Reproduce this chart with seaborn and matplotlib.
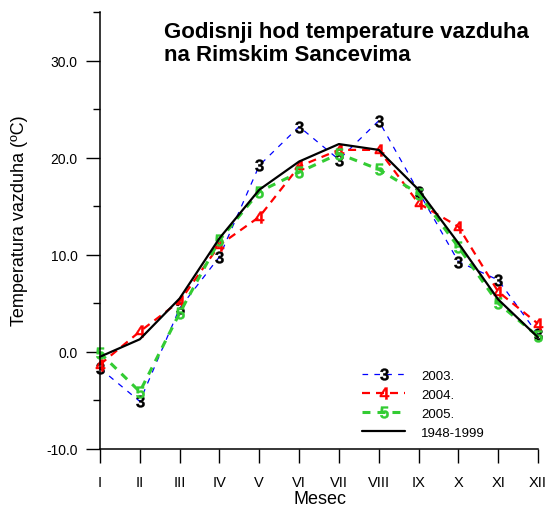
import matplotlib
matplotlib.use("Agg")
import matplotlib.pyplot as plt
import seaborn as sns
import numpy as np
import pandas as pd
from matplotlib.ticker import MultipleLocator

months = ["I", "II", "III", "IV", "V", "VI", "VII", "VIII", "IX", "X", "XI", "XII"]
t2003 = [-1.7, -5.1, 4.5, 9.8, 19.2, 23.2, 19.8, 23.8, 16.5, 9.3, 7.4, 1.8]
t2004 = [-1.3, 2.1, 5.2, 11.0, 13.9, 19.1, 20.8, 20.8, 15.3, 12.9, 6.2, 2.9]
t2005 = [-0.1, -4.1, 4.0, 11.5, 16.5, 18.5, 20.4, 18.8, 16.3, 10.8, 5.0, 1.6]
t_avg = [-0.5, 1.3, 5.5, 11.7, 16.7, 19.6, 21.4, 20.8, 16.7, 11.2, 5.4, 1.5]
labels = ["2003.", "2004.", "2005.", "1948-1999"]

sns.set_style("white")
plt.rcParams["font.family"] = ["Liberation Sans", "DejaVu Sans"]
plt.rcParams["mathtext.fontset"] = "custom"
plt.rcParams["mathtext.bf"] = "Liberation Sans:bold"
plt.rcParams["mathtext.rm"] = "Liberation Sans"
for k in ["text.color", "axes.labelcolor", "xtick.color", "ytick.color", "axes.edgecolor"]:
    plt.rcParams[k] = "black"

fig = plt.figure(figsize=(5.46, 5.10), dpi=100)
ax = fig.add_axes([100 / 546, 60 / 510, 438 / 546, 437 / 510])

x = np.arange(1, 13)
df = pd.DataFrame({"m": x, "a": t2003, "b": t2004, "c": t2005, "d": t_avg})

green = "#33cc33"
specs = [
    ("a", labels[0], "#0000ff", 0.9, (0, (4.5, 5.0)), r"$\mathbf{3}$", "black"),
    ("b", labels[1], "#ff0000", 1.6, (0, (3.6, 2.7)), r"$\mathbf{4}$", "#ff0000"),
    ("c", labels[2], green, 2.2, (0, (2.6, 2.3)), r"$\mathbf{5}$", green),
]
for col, lab, c, lw, ls, mk, mc in specs:
    sns.lineplot(data=df, x="m", y=col, ax=ax, color=c, lw=lw, linestyle=ls,
                 marker=mk, markersize=8.5, markerfacecolor=mc, markeredgecolor=mc,
                 markeredgewidth=0.3, label=lab, clip_on=False)
sns.lineplot(data=df, x="m", y="d", ax=ax, color="black", lw=1.6,
             label=labels[3], clip_on=False)

ax.set_xlim(1, 12)
ax.set_ylim(-10, 35)
ax.set_xticks(x)
ax.set_xticklabels(months, fontsize=10.5)
ax.yaxis.set_minor_locator(MultipleLocator(5))
ax.set_yticks([-10, 0, 10, 20, 30])
ax.set_yticklabels(["-10.0", "0.0", "10.0", "20.0", "30.0"], fontsize=10)
ax.tick_params(axis="x", which="major", direction="out", length=10, width=1,
               color="black", labelcolor="black", pad=9, bottom=True)
ax.tick_params(axis="y", which="major", direction="out", length=10, width=1,
               color="black", labelcolor="black", pad=6, left=True)
ax.tick_params(axis="y", which="minor", direction="out", length=5, width=1,
               color="black", left=True)
for s in ["top", "right"]:
    ax.spines[s].set_visible(False)
for s in ["left", "bottom"]:
    ax.spines[s].set_color("black")
    ax.spines[s].set_linewidth(1.1)
ax.set_xlabel("")
ax.set_ylabel("")
fig.text(320 / 546, 1 - 500 / 510, "Mesec", fontsize=13, ha="center", va="center",
         color="black")
fig.text(20 / 546, 1 - 221 / 510, "Temperatura vazduha (ºC)", fontsize=13,
         rotation=90, ha="center", va="center", color="black")

fig.text(164 / 546, 1 - 44 / 510, "Godisnji hod temperature vazduha\nna Rimskim Sancevima",
         fontsize=16, fontweight="bold", ha="left", va="center", linespacing=1.15,
         color="black")

leg = ax.legend(loc="upper left", bbox_to_anchor=(350 / 546, 1 - 359 / 510),
                bbox_transform=fig.transFigure, frameon=False, fontsize=9.5,
                handlelength=3.3, handletextpad=1.2, labelspacing=0.5, numpoints=1)
for t in leg.get_texts():
    t.set_color("black")

fig.savefig("out.png", dpi=100)
